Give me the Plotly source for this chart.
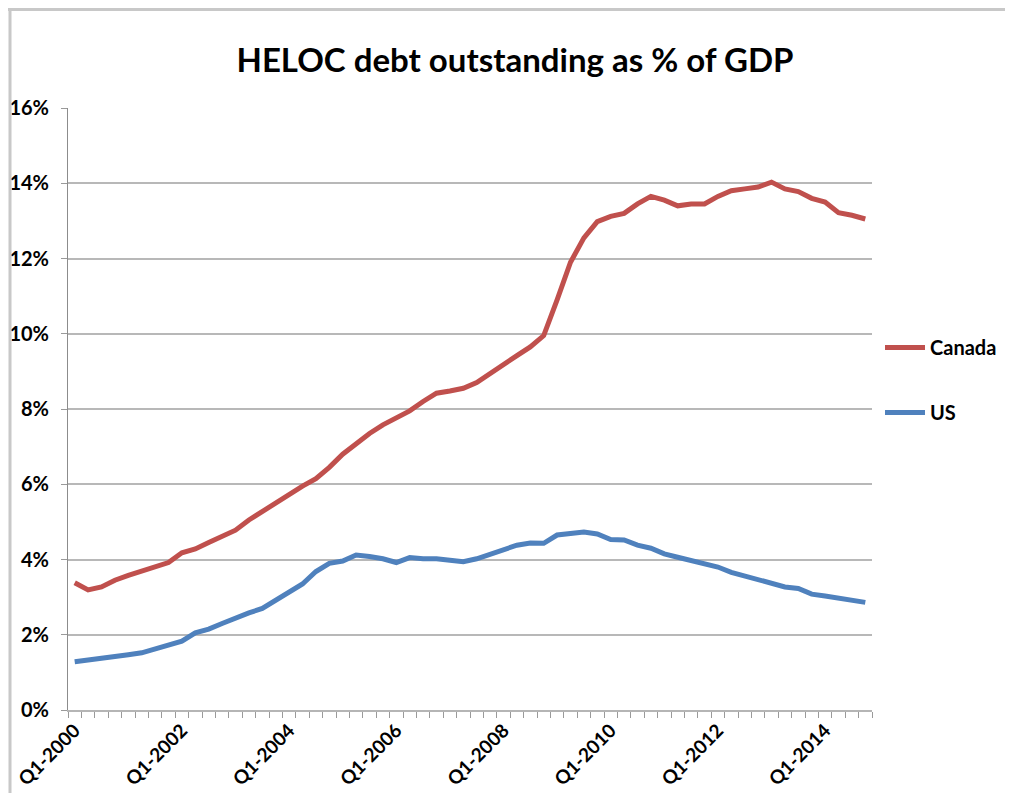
import plotly.graph_objects as go

quarters = [f"Q{q}-{y}" for y in range(2000, 2015) for q in range(1, 5)]

canada = [3.38, 3.19, 3.27, 3.45, 3.58, 3.70, 3.80, 3.92, 4.18, 4.28,
          4.45, 4.62, 4.78, 5.05, 5.28, 5.50, 5.72, 5.95, 6.15, 6.45,
          6.80, 7.08, 7.35, 7.58, 7.78, 7.95, 8.20, 8.42, 8.48, 8.55,
          8.70, 8.95, 9.20, 9.42, 9.65, 9.95, 10.90, 11.90, 12.55, 12.98,
          13.12, 13.20, 13.45, 13.65, 13.55, 13.40, 13.45, 13.45, 13.65, 13.80,
          13.85, 13.90, 14.03, 13.85, 13.78, 13.60, 13.50, 13.22, 13.15, 13.05]

us = [1.28, 1.32, 1.37, 1.42, 1.47, 1.52, 1.62, 1.72, 1.83, 2.05,
      2.15, 2.30, 2.45, 2.58, 2.70, 2.92, 3.12, 3.35, 3.68, 3.90,
      3.96, 4.12, 4.08, 4.02, 3.92, 4.05, 4.02, 4.02, 3.98, 3.94,
      4.02, 4.15, 4.28, 4.38, 4.44, 4.43, 4.65, 4.70, 4.73, 4.68,
      4.53, 4.52, 4.38, 4.30, 4.15, 4.06, 3.98, 3.88, 3.80, 3.66,
      3.57, 3.48, 3.38, 3.27, 3.23, 3.08, 3.03, 2.98, 2.92, 2.86]

tick_idx = list(range(0, 60, 8))
tick_text = [quarters[i] for i in tick_idx]
x_idx = list(range(len(quarters)))

FONT = "Lato"
W, H = 997, 785
L, R, T, B = 60, 133, 100, 83
PW, PH = W - L - R, H - T - B

fig = go.Figure()
fig.add_trace(go.Scatter(x=x_idx, y=[v / 100 for v in canada], mode="lines", name="Canada",
                         line=dict(color="#C0504D", width=5), legendgroup="a",
                         customdata=quarters, hovertemplate="%{customdata}: %{y:.2%}"))
fig.add_trace(go.Scatter(x=x_idx, y=[v / 100 for v in us], mode="lines", name="US",
                         line=dict(color="#4F81BD", width=5), legendgroup="b",
                         customdata=quarters, hovertemplate="%{customdata}: %{y:.2%}"))

fig.update_layout(
    width=W, height=H,
    margin=dict(l=L, r=R, t=T, b=B, autoexpand=False),
    paper_bgcolor="white", plot_bgcolor="white",
    title=dict(text="<b>HELOC debt outstanding as % of GDP</b>", x=(515 - 8) / W, xanchor="center",
               y=1 - 52 / H, yanchor="middle",
               font=dict(family=FONT, size=33, color="black")),
    font=dict(family=FONT, color="black"),
    showlegend=True,
    legend=dict(x=(872 - L) / PW, xanchor="left", y=0.548, yanchor="middle",
                font=dict(family=FONT, size=20, color="black", weight="bold"),
                tracegroupgap=36, bgcolor="rgba(0,0,0,0)", itemwidth=40),
    xaxis=dict(range=[-0.5, 59.5], tickmode="array", tickvals=tick_idx, ticktext=tick_text,
               tickangle=-45, ticks="", showgrid=False, zeroline=False, automargin=False,
               showline=True, linecolor="#b5b5b5", linewidth=2,
               tickfont=dict(family=FONT, size=19, color="black", weight="bold"),
               minor=dict(tickmode="linear", tick0=-0.5, dtick=1, ticks="outside",
                          ticklen=6, tickcolor="#9a9a9a", tickwidth=1, showgrid=False)),
    yaxis=dict(range=[0, 0.16], dtick=0.02, tickformat=".0%", ticks="outside", ticklen=6,
               tickcolor="#9a9a9a", showgrid=True, gridcolor="#b8b8b8", gridwidth=2,
               zeroline=False, showline=True, linecolor="#8c8c8c", linewidth=1,
               ticklabelstandoff=8, automargin=False,
               tickfont=dict(family=FONT, size=20, color="black", weight="bold")),
    shapes=[
        dict(type="rect", xref="paper", yref="paper", x0=-L / PW, x1=(W - L) / PW,
             y0=1 + (T - 3) / PH, y1=1 + T / PH, fillcolor="#c8c8c8", line=dict(width=0),
             layer="below"),
        dict(type="line", xref="paper", yref="paper", x0=-(L - 2) / PW, x1=-(L - 2) / PW,
             y0=-B / PH, y1=1 + T / PH, line=dict(color="#c8c8c8", width=3)),
    ],
)

fig.write_html("out.html")
